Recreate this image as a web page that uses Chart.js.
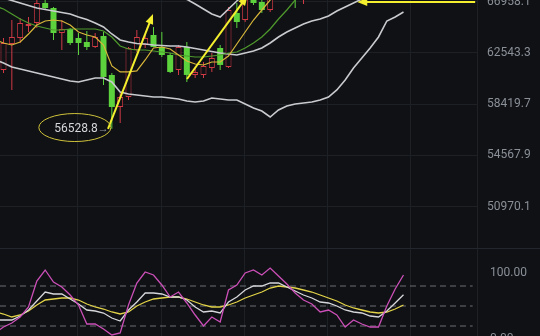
<!DOCTYPE html>
<html>
<head>
<meta charset="utf-8">
<script src="https://cdn.jsdelivr.net/npm/chart.js@4.4.1/dist/chart.umd.min.js"></script>
<style>
  html, body { margin: 0; padding: 0; background: #0f1115; overflow: hidden; }
  #wrap { position: relative; width: 540px; height: 336px; overflow: hidden; }
  #main { position: absolute; left: 0; top: 0; }
  #kdj { position: absolute; left: 0; top: 248px; }
  #sep { position: absolute; left: 0; top: 248px; width: 540px; height: 1px; background: #23262c; }
</style>
</head>
<body>
<div id="wrap">
  <canvas id="main" width="540" height="248"></canvas>
  <canvas id="kdj" width="540" height="100"></canvas>
  <div id="sep"></div>
</div>
<script>
// Candles, index 0 sits just left of the visible area
const opens = [62800, 61131, 63281, 63787, 64813, 65072, 66825, 66382, 64212, 64555,
  63787, 63449, 63028, 63957, 60726, 58195, 58974, 62778, 63196, 64042,
  63028, 62362, 61131, 63028, 60726, 60726, 61294, 62945, 61375, 65942,
  65332, 67400, 66914, 66206, 67900, 68500, 69300, 67600, 69500, 70400,
  71200, 70800, 72100, 72700, 72300, 73500, 73800, 73200, 74300, 74600];
const highs = [63500, 63787, 65332, 65505, 65592, 67300, 67150, 66470, 65332, 64641,
  64212, 64383, 64212, 64298, 60888, 59288, 63028, 64469, 64042, 64727,
  64298, 62528, 63196, 63449, 61294, 61784, 62528, 63196, 66470, 66825,
  67800, 68000, 67500, 68200, 68900, 69600, 69800, 70000, 70800, 71500,
  71900, 72400, 73000, 73300, 73800, 74200, 74400, 74700, 75000, 75300];
const lows = [62300, 60888, 59526, 63365, 64298, 64641, 66206, 63618, 62778, 63196,
  62362, 62778, 62945, 59924, 56528.8, 56970, 58739, 62611, 62945, 63028,
  62196, 60888, 60726, 60163, 60484, 60484, 60969, 61131, 61294, 64641,
  65158, 66647, 65942, 66030, 67300, 68100, 66382, 66736, 69100, 70000,
  70500, 70600, 71500, 71900, 72000, 73000, 72800, 73000, 73900, 74100];
const closes = [63200, 63365, 63872, 65072, 64985, 66825, 66382, 64212, 64555, 63365,
  63365, 63028, 63872, 60565, 58195, 58974, 62945, 63872, 63787, 63028,
  62362, 60969, 63028, 60726, 60969, 61457, 62114, 61539, 66206, 65158,
  67600, 66825, 66206, 67900, 68500, 69200, 67600, 69500, 70400, 71200,
  70800, 72100, 72700, 72300, 73500, 73800, 73200, 74300, 74600, 74900];

// Moving averages and Bollinger bands
const ma5 = [63618, 63365, 63196, 63449, 64127, 64899, 65245, 65332, 65245, 64899,
  64298, 64042, 63872, 63196, 61457, 60969, 60969, 61050, 61949, 62945,
  63028, 62861, 62362, 61866, 61620, 61539, 61784, 61784, 62279, 63281,
  64298, 65332, 66206, 67092, 67900, 68600, 69100, 69500, 70000, 70600,
  71200, 71700, 72200, 72700, 73100, 73400, 73700, 73900, 74100, 74200];
const ma10 = [66559, 66294, 65855, 65418, 65072, 64813, 64641, 64469, 64469, 64555,
  64555, 64555, 64555, 64383, 63872, 63112, 62861, 62778, 62778, 62694,
  62611, 62528, 62362, 62279, 62196, 62196, 62279, 62362, 62528, 62611,
  62945, 63365, 63872, 64555, 65418, 66206, 67092, 67900, 68600, 69300,
  70000, 70600, 71200, 71800, 72300, 72700, 73100, 73400, 73600, 73800];
const bollUp = [73100, 72800, 72500, 72200, 71900, 71600, 71300, 71000, 70700, 70400,
  70100, 69700, 69300, 68900, 68400, 68000, 67800, 67650, 67550, 67450,
  67400, 67350, 67300, 67150, 66736, 66294, 65855, 65592, 66294, 67003,
  67700, 68400, 69100, 69800, 70400, 71000, 71500, 72000, 72400, 72800,
  73100, 73400, 73700, 74000, 74300, 74600, 74900, 75200, 75500, 75800];
const bollMid = [67539, 67271, 67047, 66825, 66603, 66382, 66250, 66118, 65986, 65855,
  65592, 65375, 65072, 64727, 64127, 63618, 63449, 63323, 63281, 63196,
  63154, 63112, 63112, 63028, 62903, 62778, 62653, 62528, 62445, 62362,
  62528, 62694, 62945, 63365, 63872, 64298, 64641, 64985, 65245, 65418,
  65680, 66118, 66470, 66825, 67181, 67629, 68081, 68535, 68993, 69453];
const bollDn = [61949, 61702, 61375, 61212, 61050, 60888, 60726, 60565, 60404, 60243,
  60163, 60324, 60484, 60484, 60163, 59366, 59209, 59131, 59053, 58974,
  58974, 58896, 58817, 58661, 58583, 58661, 58896, 58817, 58739, 58739,
  58426, 58116, 57884, 57426, 57963, 58272, 58426, 58504, 58583, 58739,
  58974, 59526, 60324, 61294, 62114, 62945, 63872, 65245, 65592, 66030];

// KDJ panel
const kLine = [29, 29, 29, 35, 44, 57.5, 71, 68, 68, 60.5, 53, 44, 42.5, 39.5, 32, 27.5, 44, 56, 69.5, 69.5,
  68, 63.5, 63.5, 59, 48.5, 41, 42.5, 39.5, 56, 63.5, 74, 80, 80, 84.5, 84.5, 78.5, 72.5, 66.5, 62, 56,
  54.5, 50, 44, 41, 39.5, 35, 33.5, 42.5, 54.5, 67];
const dLine = [41, 38, 33.5, 36.5, 42.5, 51.5, 59, 60.5, 62, 62, 59, 53, 48.5, 45.5, 41, 38, 41, 50, 56, 60.5,
  62, 63.5, 63.5, 60.5, 56, 51.5, 48.5, 48.5, 51.5, 56, 62, 66.5, 71, 77, 80, 78.5, 77, 74, 71, 66.5,
  62, 57.5, 51.5, 47, 44, 41, 39.5, 41, 45.5, 51.5];
const jLine = [9.5, 18.5, 24.5, 33.5, 48.5, 87.5, 104, 86, 78.5, 66.5, 51.5, 23, 23, 15.5, 6.5, 9.5, 51.5, 84.5, 101, 96.5,
  81.5, 63.5, 71, 54.5, 36.5, 20, 33.5, 26, 74, 81.5, 99.5, 104, 96.5, 107, 95, 83, 69.5, 59, 53, 41,
  44, 36.5, 18.5, 29, 23, 18.5, 18.5, 50, 75.5, 96.5];
const kdjLevels = [20, 50, 80];

// Axis ticks
const priceTicks = [50970.1, 54567.9, 58419.7, 62543.3, 66958.1];
const kdjTicks = [0, 100];
const gridSteps = [9.9, 19.9, 29.9, 39.9, 49.9];

// Hand drawn marks: [x0, price0, x1, price1], the head is at the second point
const arrows = [
  [13.54, 56528.8, 18.94, 65855],
  [23.02, 60404, 30.3, 67500],
  [57.6, 66920, 43.45, 66920]
];

const X_MIN = 0.58, X_MAX = 57.82;
const BG = '#0f1115';
const GRID = '#1d2025';
const RED = '#cf3a45';
const GREEN = '#5cd23d';
const LABEL = '#8b9098';

const up = i => closes[i] >= opens[i];
const pts = arr => arr.map((v, i) => ({ x: i, y: v }));

function lineSet(arr, color, width, order) {
  return { type: 'line', data: pts(arr), borderColor: color, borderWidth: width,
    pointRadius: 0, tension: 0, order: order };
}

function barSet(data, fill, stroke, thick, order) {
  return { type: 'bar', data: data, backgroundColor: fill, borderColor: stroke,
    borderWidth: stroke ? 1 : 0, borderSkipped: false, barThickness: thick,
    grouped: false, inflateAmount: 0, minBarLength: 1, order: order };
}

const wickUp = [], wickDown = [], bodyUp = [], bodyDown = [];
opens.forEach((o, i) => {
  const wick = { x: i, y: [lows[i], highs[i]] };
  const body = { x: i, y: [Math.min(o, closes[i]), Math.max(o, closes[i])] };
  if (up(i)) { wickUp.push(wick); bodyUp.push(body); }
  else { wickDown.push(wick); bodyDown.push(body); }
});

function drawArrow(ctx, x0, y0, x1, y1) {
  const a = Math.atan2(y1 - y0, x1 - x0);
  const c = Math.cos(a), s = Math.sin(a);
  ctx.beginPath();
  ctx.moveTo(x0, y0);
  ctx.lineTo(x1 - 6 * c, y1 - 6 * s);
  ctx.stroke();
  ctx.beginPath();
  ctx.moveTo(x1, y1);
  ctx.lineTo(x1 - 10 * c + 4 * s, y1 - 10 * s - 4 * c);
  ctx.lineTo(x1 - 10 * c - 4 * s, y1 - 10 * s + 4 * c);
  ctx.closePath();
  ctx.fill();
}

const marksPlugin = {
  id: 'marks',
  afterDatasetsDraw(chart) {
    const { ctx, chartArea: a, scales: { x, y } } = chart;
    ctx.save();
    ctx.beginPath();
    ctx.rect(a.left, a.top, a.right - a.left, a.bottom - a.top);
    ctx.clip();

    ctx.strokeStyle = '#f3ef2e';
    ctx.fillStyle = '#f3ef2e';
    ctx.lineWidth = 2;
    arrows.forEach(([x0, p0, x1, p1]) => {
      drawArrow(ctx, x.getPixelForValue(x0), y.getPixelForValue(p0),
        x.getPixelForValue(x1), y.getPixelForValue(p1));
    });

    // lowest low, circled
    const lo = Math.min(...lows);
    const li = lows.indexOf(lo);
    const right = x.getPixelForValue(li) - 3;
    const ly = y.getPixelForValue(lo);
    ctx.textBaseline = 'middle';
    ctx.textAlign = 'right';
    ctx.font = '11px Roboto';
    ctx.fillStyle = '#9a9ea6';
    ctx.fillText('→', right, ly);
    ctx.font = '12px Roboto';
    ctx.fillStyle = '#d4d6da';
    ctx.fillText(lo.toFixed(1), right - 11, ly);
    ctx.strokeStyle = '#cfc23a';
    ctx.lineWidth = 1;
    ctx.beginPath();
    ctx.ellipse(right - 34, ly - 1.3, 36, 14, 0, 0, Math.PI * 2);
    ctx.stroke();
    ctx.restore();
  }
};

function xAxis() {
  return {
    type: 'linear', min: X_MIN, max: X_MAX, offset: false, bounds: 'data',
    grid: { color: GRID, drawTicks: false, offset: false },
    border: { display: false },
    ticks: { display: false },
    afterBuildTicks: s => { s.ticks = gridSteps.map(v => ({ value: v })); },
    afterFit: s => { s.height = 0; }
  };
}

function yAxis(type, min, max, ticks, gridColor, pad, fmt) {
  return {
    type: type, position: 'right', min: min, max: max, bounds: 'data',
    grid: { color: gridColor, drawTicks: false },
    border: { display: true, color: GRID },
    ticks: { color: LABEL, font: { family: 'Roboto', size: 12 }, padding: pad, callback: fmt },
    afterBuildTicks: s => { s.ticks = ticks.map(v => ({ value: v })); },
    afterFit: s => { s.width = 63; s.paddingTop = 0; s.paddingBottom = 0; }
  };
}

const common = {
  responsive: false,
  animation: false,
  layout: { padding: 0 },
  plugins: { legend: { display: false }, tooltip: { enabled: false } }
};

new Chart(document.getElementById('main'), {
  type: 'bar',
  data: {
    datasets: [
      barSet(wickUp, RED, null, 1, 4),
      barSet(wickDown, GREEN, null, 1, 4),
      barSet(bodyUp, BG, RED, 6, 3),
      barSet(bodyDown, GREEN, null, 6, 3),
      lineSet(bollUp, '#c9cbcf', 1.6, 2),
      lineSet(bollMid, '#c9cbcf', 1.6, 2),
      lineSet(bollDn, '#c9cbcf', 1.6, 2),
      lineSet(ma10, '#4f9a2c', 1.2, 1),
      lineSet(ma5, '#d9b73a', 1.2, 0)
    ]
  },
  options: Object.assign({}, common, {
    scales: {
      x: xAxis(),
      y: yAxis('logarithmic', 48245, 67092, priceTicks, GRID, 10, v => Number(v).toFixed(1))
    }
  }),
  plugins: [marksPlugin]
});

const levelSets = kdjLevels.map(v => ({
  type: 'line', data: [{ x: X_MIN, y: v }, { x: 57.3, y: v }],
  borderColor: '#6c6f75', borderWidth: 1, borderDash: [6, 4], pointRadius: 0, order: 5
}));

new Chart(document.getElementById('kdj'), {
  type: 'line',
  data: {
    datasets: levelSets.concat([
      lineSet(dLine, '#e2d348', 1.3, 2),
      lineSet(kLine, '#d6d7da', 1.3, 1),
      lineSet(jLine, '#cc4fb8', 1.3, 0)
    ])
  },
  options: Object.assign({}, common, {
    scales: {
      x: xAxis(),
      y: yAxis('linear', -13, 137, kdjTicks, 'transparent', 13, v => Number(v).toFixed(2))
    }
  })
});
</script>
</body>
</html>
